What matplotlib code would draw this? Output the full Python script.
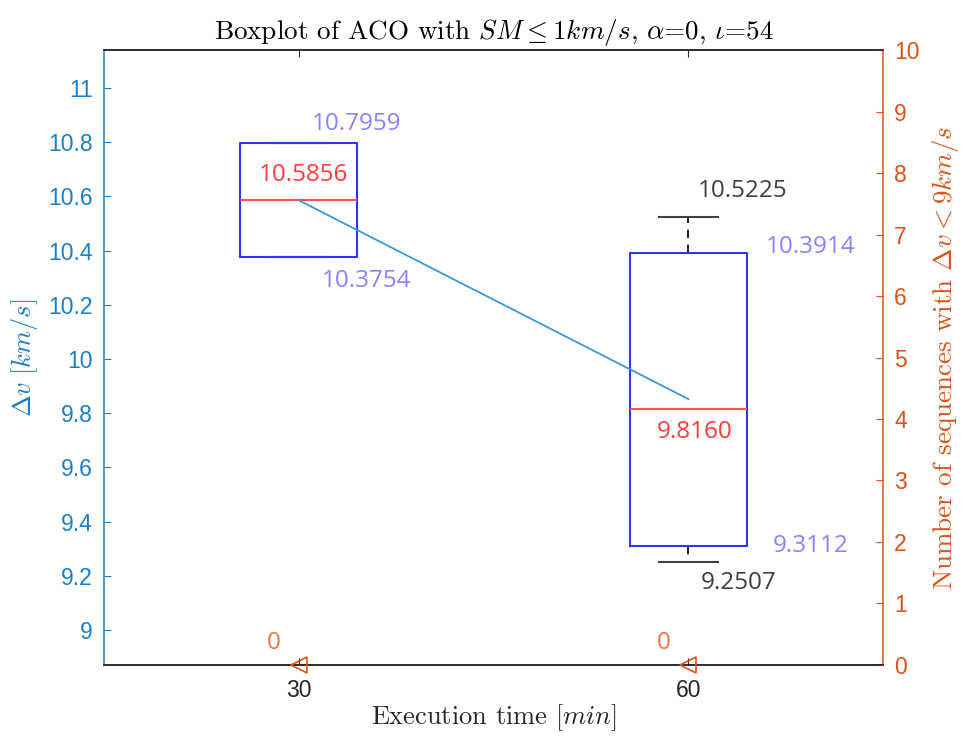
import matplotlib
matplotlib.use("Agg")
import matplotlib.pyplot as plt

# data
groups = ["30", "60"]
positions = [1, 2]
q1 = [10.3754, 9.3112]
medians = [10.5856, 9.8160]
q3 = [10.7959, 10.3914]
whisk_lo = [10.3754, 9.2507]
whisk_hi = [10.7959, 10.5225]
means = [10.5856, 9.852]
n_below = [0, 0]

BLUE_AX = "#1A7FC8"
ORANGE = "#D95319"
DARK = "#262626"

plt.rcParams["mathtext.fontset"] = "cm"

fig = plt.figure(figsize=(9.66, 7.36), dpi=100)
ax = fig.add_axes([0.1077, 0.0965, 0.8066, 0.8355])
ax2 = ax.twinx()

stats = []
for i in range(len(groups)):
    stats.append(dict(med=medians[i], q1=q1[i], q3=q3[i],
                      whislo=whisk_lo[i], whishi=whisk_hi[i], fliers=[]))

ax.bxp(stats, positions=positions, widths=0.3, capwidths=0.15, showfliers=False,
       boxprops=dict(color="#3333FF", lw=1.5, zorder=3),
       medianprops=dict(color="#FF5050", lw=1.5, zorder=3),
       whiskerprops=dict(color="black", lw=1.2, ls=(0, (5, 4)), zorder=2),
       capprops=dict(color="#404040", lw=1.5, zorder=2))

ax.plot(positions, means, color="#3A98D8", lw=1.3, zorder=4)

px = 0.72  # points per pixel at 100 dpi


def label(axis, x, y, txt, dx, dy, color):
    axis.annotate(txt, (x, y), xytext=(dx * px, dy * px), textcoords="offset points",
                  ha="center", va="center", color=color, fontsize=17.5,
                  family="Open Sans", zorder=5)


quart_col = "#8585FF"
med_col = "#FF3C3C"
whis_col = "#404040"
# box 1
label(ax, positions[0], q3[0], f"{q3[0]:.4f}", 58, 19, quart_col)
label(ax, positions[0], medians[0], f"{medians[0]:.4f}", 5, 25, med_col)
label(ax, positions[0], q1[0], f"{q1[0]:.4f}", 68, -24, quart_col)
# box 2
label(ax, positions[1], whisk_hi[1], f"{whisk_hi[1]:.4f}", 54, 26, whis_col)
label(ax, positions[1], q3[1], f"{q3[1]:.4f}", 122, 6, quart_col)
label(ax, positions[1], medians[1], f"{medians[1]:.4f}", 6, -23, med_col)
label(ax, positions[1], q1[1], f"{q1[1]:.4f}", 122, 0, quart_col)
label(ax, positions[1], whisk_lo[1], f"{whisk_lo[1]:.4f}", 50, -21, whis_col)

ax.set_xlim(0.5, 2.5)
ax.set_ylim(8.871, 11.14)
ax.set_xticks(positions)
ax.set_xticklabels(groups)
ax.set_yticks([9 + 0.2 * k for k in range(11)])
ax.set_yticklabels([f"{9 + 0.2 * k:g}" for k in range(11)])

ax2.plot(positions, n_below, ls="none", marker="<", ms=11, mfc="none",
         mec=ORANGE, mew=1.2, clip_on=False, zorder=6)
for p, n in zip(positions, n_below):
    ax2.annotate(str(n), (p, n), xytext=(-25 * px, 22 * px), textcoords="offset points",
                 ha="center", va="center", color="#E8764A", fontsize=17.5,
                 family="Open Sans")
ax2.set_ylim(0, 10)
ax2.set_yticks(range(0, 11))

tick_font = "Liberation Sans"
ax.tick_params(axis="y", direction="in", length=5, colors=BLUE_AX, labelsize=16.5, pad=8)
ax.tick_params(axis="x", direction="in", length=5, top=True, colors=DARK,
               labelsize=16.5, pad=10)
ax2.tick_params(axis="y", direction="in", length=5, colors=ORANGE, labelsize=16.5, pad=8)
for t in ax.get_xticklabels() + ax.get_yticklabels() + ax2.get_yticklabels():
    t.set_family(tick_font)

ax.spines["left"].set_color(BLUE_AX)
ax.spines["right"].set_visible(False)
ax.spines["top"].set_color(DARK)
ax.spines["bottom"].set_color(DARK)
ax2.spines["left"].set_visible(False)
ax2.spines["top"].set_color(DARK)
ax2.spines["bottom"].set_color(DARK)
ax2.spines["right"].set_color(ORANGE)
for s in ax.spines.values():
    s.set_linewidth(1.1)
for s in ax2.spines.values():
    s.set_linewidth(1.1)

ax.set_title(r"Boxplot of ACO with $SM \leq 1km/s$, $\alpha$=0, $\iota$=54",
             fontsize=19.5, color="black", pad=8, family="cmr10")
ax.set_xlabel(r"Execution time $[min]$", fontsize=19, color=DARK, labelpad=0,
              family="cmr10")
ax.set_ylabel(r"$\Delta v\ [km/s]$", fontsize=19, color=BLUE_AX, labelpad=6)
ax2.set_ylabel(r"Number of sequences with $\Delta v < 9km/s$", fontsize=19.5,
               color=ORANGE, labelpad=7, family="cmr10")

fig.savefig("out.png", dpi=100)
